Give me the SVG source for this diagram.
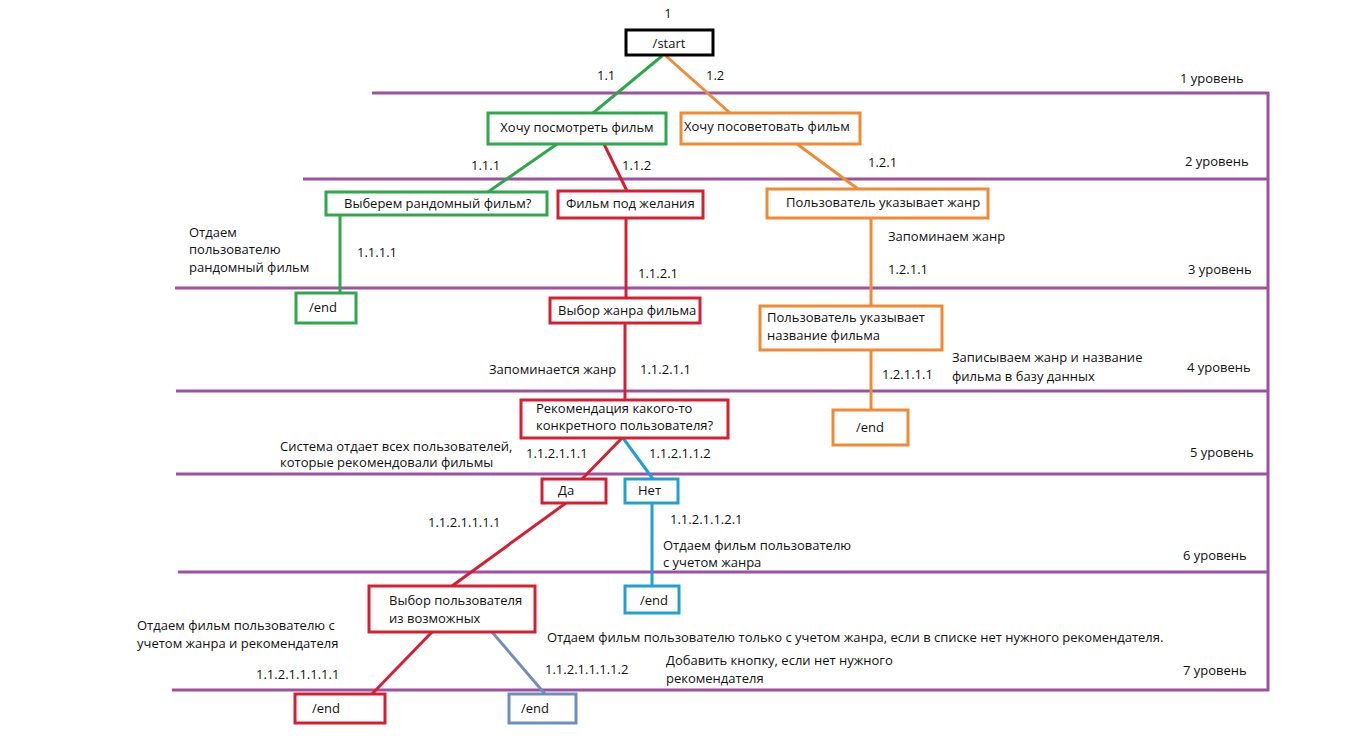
<svg xmlns="http://www.w3.org/2000/svg" width="1356" height="751" viewBox="0 0 1356 751">
  <style>
    text { font-family: "Open Sans", "Noto Sans", "DejaVu Sans", sans-serif; font-size: 13px; fill: #111; }
    .box { fill: #fff; stroke-width: 3; }
    .black { stroke: #000; }
    .green { stroke: #2ea84a; }
    .red { stroke: #d42030; }
    .orange { stroke: #f08a35; }
    .blue { stroke: #21a0d4; }
    .steel { stroke: #6f8fba; }
    .conn line { stroke-width: 3; }
    .levels line { stroke: #9d51a0; stroke-width: 3; }
  </style>

  <rect width="1356" height="751" fill="#fff"/>

  <!-- level separators -->
  <g class="levels">
    <line x1="372" y1="93" x2="1269" y2="93"/>
    <line x1="303" y1="179" x2="1268" y2="179"/>
    <line x1="175" y1="288" x2="1268" y2="288"/>
    <line x1="176" y1="391" x2="1268" y2="391"/>
    <line x1="176" y1="474" x2="1268" y2="474"/>
    <line x1="178" y1="572" x2="1268" y2="572"/>
    <line x1="172" y1="690" x2="1269" y2="690"/>
    <line x1="1268" y1="92" x2="1268" y2="691"/>
  </g>

  <!-- level captions -->
  <g id="level-captions">
    <text x="1180" y="83">1 уровень</text>
    <text x="1185" y="166">2 уровень</text>
    <text x="1188" y="274">3 уровень</text>
    <text x="1187" y="372">4 уровень</text>
    <text x="1190" y="457">5 уровень</text>
    <text x="1183" y="560">6 уровень</text>
    <text x="1183" y="675">7 уровень</text>
  </g>

  <!-- connectors -->
  <g class="conn" id="connectors">
    <line class="green" x1="662" y1="56" x2="593" y2="113"/>
    <line class="orange" x1="666" y1="56" x2="730" y2="113"/>
    <line class="green" x1="557" y1="144" x2="488" y2="192"/>
    <line class="red" x1="604" y1="144" x2="627" y2="191"/>
    <line class="orange" x1="797" y1="144" x2="858" y2="189"/>
    <line class="green" x1="340" y1="215" x2="340" y2="293"/>
    <line class="red" x1="626" y1="218" x2="626" y2="298"/>
    <line class="orange" x1="871" y1="218" x2="871" y2="306"/>
    <line class="red" x1="625" y1="323" x2="625" y2="400"/>
    <line class="orange" x1="871" y1="350" x2="871" y2="410"/>
    <line class="red" x1="622" y1="438" x2="582" y2="479"/>
    <line class="blue" x1="623" y1="438" x2="653" y2="479"/>
    <line class="red" x1="566" y1="503" x2="452" y2="586"/>
    <line class="blue" x1="652" y1="503" x2="652" y2="586"/>
    <line class="red" x1="432" y1="632" x2="372" y2="694"/>
    <line class="steel" x1="492" y1="632" x2="545" y2="694"/>
  </g>

  <!-- edge labels and notes -->
  <g id="labels">
    <text x="668" y="18" text-anchor="middle">1</text>
    <text x="597" y="80">1.1</text>
    <text x="706" y="80">1.2</text>
    <text x="471" y="170">1.1.1</text>
    <text x="622" y="170">1.1.2</text>
    <text x="868" y="167">1.2.1</text>
    <text x="189" y="237">Отдаем</text>
    <text x="189" y="254">пользователю</text>
    <text x="189" y="272">рандомный фильм</text>
    <text x="357" y="257">1.1.1.1</text>
    <text x="638" y="278">1.1.2.1</text>
    <text x="888" y="241">Запоминаем жанр</text>
    <text x="888" y="274">1.2.1.1</text>
    <text x="489" y="374">Запоминается жанр</text>
    <text x="640" y="374">1.1.2.1.1</text>
    <text x="882" y="379">1.2.1.1.1</text>
    <text x="952" y="362">Записываем жанр и название</text>
    <text x="952" y="381">фильма в базу данных</text>
    <text x="280" y="451">Система отдает всех пользователей,</text>
    <text x="280" y="467">которые рекомендовали фильмы</text>
    <text x="526" y="458">1.1.2.1.1.1</text>
    <text x="649" y="458">1.1.2.1.1.2</text>
    <text x="428" y="527">1.1.2.1.1.1.1</text>
    <text x="670" y="524">1.1.2.1.1.2.1</text>
    <text x="663" y="550">Отдаем фильм пользователю</text>
    <text x="663" y="567">с учетом жанра</text>
    <text x="137" y="630">Отдаем фильм пользователю с</text>
    <text x="137" y="648">учетом жанра и рекомендателя</text>
    <text x="547" y="642">Отдаем фильм пользователю только с учетом жанра, если в списке нет нужного рекомендателя.</text>
    <text x="256" y="679">1.1.2.1.1.1.1.1</text>
    <text x="545" y="674">1.1.2.1.1.1.1.2</text>
    <text x="666" y="665">Добавить кнопку, если нет нужного</text>
    <text x="666" y="683">рекомендателя</text>
  </g>

  <!-- nodes -->
  <g id="start">
    <rect class="box black" x="626" y="30" width="87" height="25"/>
    <text x="669" y="48" text-anchor="middle">/start</text>
  </g>
  <g id="want-watch">
    <rect class="box green" x="488" y="113" width="178" height="31"/>
    <text x="577" y="132" text-anchor="middle">Хочу посмотреть фильм</text>
  </g>
  <g id="want-advise">
    <rect class="box orange" x="681" y="113" width="179" height="31"/>
    <text x="684" y="131">Хочу посоветовать фильм</text>
  </g>
  <g id="random-film">
    <rect class="box green" x="326" y="192" width="221" height="23"/>
    <text x="344" y="208">Выберем рандомный фильм?</text>
  </g>
  <g id="film-wish">
    <rect class="box red" x="558" y="191" width="145" height="27"/>
    <text x="566" y="208">Фильм под желания</text>
  </g>
  <g id="user-genre">
    <rect class="box orange" x="767" y="189" width="221" height="29"/>
    <text x="786" y="207">Пользователь указывает жанр</text>
  </g>
  <g id="end-random">
    <rect class="box green" x="296" y="293" width="60" height="30"/>
    <text x="309" y="312">/end</text>
  </g>
  <g id="genre-choice">
    <rect class="box red" x="550" y="298" width="150" height="25"/>
    <text x="558" y="315">Выбор жанра фильма</text>
  </g>
  <g id="user-title">
    <rect class="box orange" x="760" y="306" width="182" height="44"/>
    <text x="767" y="322">Пользователь указывает</text>
    <text x="767" y="340">название фильма</text>
  </g>
  <g id="end-title">
    <rect class="box orange" x="833" y="410" width="75" height="35"/>
    <text x="856" y="432">/end</text>
  </g>
  <g id="recommend-question">
    <rect class="box red" x="521" y="400" width="207" height="38"/>
    <text x="536" y="413">Рекомендация какого-то</text>
    <text x="536" y="430">конкретного пользователя?</text>
  </g>
  <g id="yes">
    <rect class="box red" x="542" y="479" width="64" height="24"/>
    <text x="558" y="495">Да</text>
  </g>
  <g id="no">
    <rect class="box blue" x="625" y="479" width="53" height="24"/>
    <text x="638" y="495">Нет</text>
  </g>
  <g id="end-genre">
    <rect class="box blue" x="625" y="586" width="54" height="27"/>
    <text x="640" y="605">/end</text>
  </g>
  <g id="user-choice">
    <rect class="box red" x="369" y="586" width="166" height="46"/>
    <text x="389" y="605">Выбор пользователя</text>
    <text x="389" y="623">из возможных</text>
  </g>
  <g id="end-recommender">
    <rect class="box red" x="295" y="694" width="90" height="29"/>
    <text x="312" y="713">/end</text>
  </g>
  <g id="end-no-recommender">
    <rect class="box steel" x="509" y="694" width="67" height="29"/>
    <text x="521" y="713">/end</text>
  </g>
</svg>
